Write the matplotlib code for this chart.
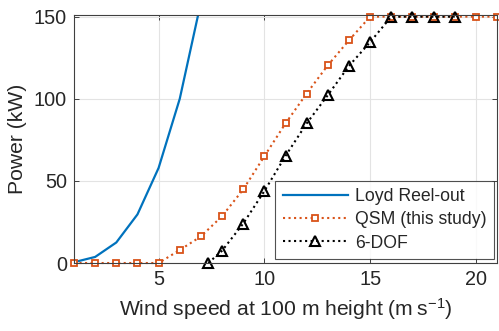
import matplotlib
matplotlib.use("Agg")
import matplotlib.pyplot as plt

plt.rcParams['font.family'] = ['Liberation Sans', 'DejaVu Sans']
plt.rcParams['mathtext.fontset'] = 'custom'
plt.rcParams['mathtext.rm'] = 'Liberation Sans'
plt.rcParams['mathtext.default'] = 'regular'

loyd_x = [1, 2, 3, 4, 5, 6, 7]
loyd_y = [0.5, 3.7, 12.5, 29.6, 57.9, 100, 158.8]

qsm_x = [1, 2, 3, 4, 5, 6, 7, 8, 9, 10, 11, 12, 13, 14, 15, 16, 17, 18, 19, 20, 21]
qsm_y = [0, 0, 0, 0, 0, 7.9, 16.2, 28.5, 44.8, 65, 85, 103.2, 120.4, 135.6, 150,
         150, 150, 150, 150, 150, 150]

dof_x = [7.35, 8, 9, 10, 11, 12, 13, 14, 15, 16, 17, 18, 19]
dof_y = [0, 7.5, 24, 43.8, 65.2, 85, 102.2, 120, 134.5, 150, 150, 150, 150]

xticks = [5, 10, 15, 20]
yticks = [0, 50, 100, 150]

txt = '#262626'
fig = plt.figure(figsize=(4.99, 3.31), dpi=100)
ax = fig.add_axes([0.1483, 0.2054, 0.8477, 0.7492])

ax.plot(loyd_x, loyd_y, color='#0072BD', lw=1.6, label='Loyd Reel-out')
ax.plot(qsm_x, qsm_y, color='#D95319', lw=1.5, ls=':', marker='s', ms=4.2,
        mfc='white', mec='#D95319', mew=1.3, label='QSM (this study)', clip_on=False)
ax.plot(dof_x, dof_y, color='black', lw=1.5, ls=':', marker='^', ms=6.5,
        mfc='none', mec='black', mew=1.5, label='6-DOF', clip_on=False)

ax.set_xlim(1, 21)
ax.set_ylim(0, 151)
ax.set_xticks(xticks)
ax.set_yticks(yticks)
ax.grid(True, color='#e3e3e3', lw=0.8)
ax.set_axisbelow(True)
ax.tick_params(direction='in', top=True, right=True, length=3.5, width=0.7,
               colors='#404040', labelcolor=txt, labelsize=14.3, pad=5)
for s in ax.spines.values():
    s.set_color('#404040')
    s.set_linewidth(0.8)

ax.set_xlabel('Wind speed at 100 m height (m\u2009s$^{-1}$)', fontsize=15.2, color=txt, labelpad=5)
ax.set_ylabel('Power (kW)', fontsize=15.2, color=txt, labelpad=5)

leg = ax.legend(loc='lower right', bbox_to_anchor=(0.993, 0.016), borderaxespad=0,
                fontsize=12.7, frameon=True, fancybox=False, edgecolor='#262626',
                handlelength=3.7, handletextpad=0.4, labelspacing=0.36, borderpad=0.42)
leg.get_frame().set_linewidth(0.8)
for t in leg.get_texts():
    t.set_color(txt)

fig.savefig('out.png', dpi=100)
